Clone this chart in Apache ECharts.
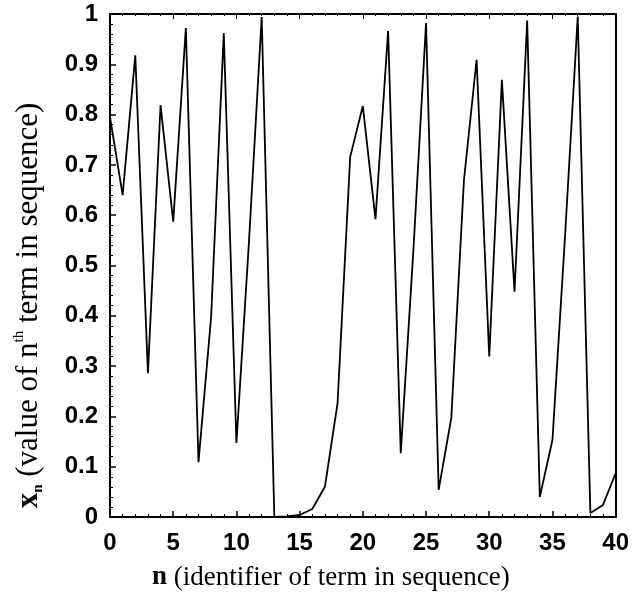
<!DOCTYPE html>
<html>
<head>
<meta charset="utf-8">
<script src="https://cdn.jsdelivr.net/npm/echarts@6/dist/echarts.min.js"></script>
<style>
  html, body { margin: 0; padding: 0; background: #fff; }
  #chart { width: 632px; height: 601px; }
</style>
</head>
<body>
<div id="chart"></div>
<script>
// n (term index)
var nValues = [0, 1, 2, 3, 4, 5, 6, 7, 8, 9, 10,
  11, 12, 13, 14, 15, 16, 17, 18, 19, 20,
  21, 22, 23, 24, 25, 26, 27, 28, 29, 30,
  31, 32, 33, 34, 35, 36, 37, 38, 39, 40];

// x_n
var xValues = [0.795, 0.64, 0.918, 0.286, 0.819, 0.587, 0.972, 0.109, 0.398, 0.962, 0.147,
  0.55, 0.994, 0.0003, 0.001, 0.004, 0.016, 0.06, 0.226, 0.716, 0.817,
  0.592, 0.966, 0.127, 0.53, 0.982, 0.054, 0.197, 0.67, 0.909, 0.319,
  0.869, 0.448, 0.987, 0.040, 0.153, 0.56, 0.995, 0.008, 0.024, 0.087];

var xTicks = [0, 5, 10, 15, 20, 25, 30, 35, 40];

var seriesData = nValues.map(function (n, i) {
  return [n, xValues[i]];
});

var tickFont = {
  color: '#000',
  fontFamily: 'Liberation Sans, Arial, sans-serif',
  fontWeight: 'bold',
  fontSize: 24
};

var titleFont = 'Liberation Serif, Times New Roman, serif';

var myChart = echarts.init(document.getElementById('chart'));

var option = {
  backgroundColor: '#fff',
  animation: false,
  grid: {
    left: 110,
    right: 12,
    top: 14,
    bottom: 84
  },
  xAxis: [{
    type: 'value',
    min: xTicks[0],
    max: xTicks[xTicks.length - 1],
    interval: 5,
    axisLine: { onZero: false, lineStyle: { color: '#000', width: 2 } },
    axisTick: { inside: true, length: 6, lineStyle: { color: '#000', width: 1.5 } },
    minorTick: { show: true, splitNumber: 5, length: 3, lineStyle: { color: '#000', width: 1 } },
    splitLine: { show: false },
    axisLabel: Object.assign({ margin: 14 }, tickFont),
    name: '{b|n} (identifier of term in sequence)',
    nameLocation: 'middle',
    nameGap: 47,
    nameTextStyle: {
      color: '#000',
      fontFamily: titleFont,
      fontSize: 27,
      padding: [0, 64, 0, 0],
      rich: {
        b: { fontFamily: titleFont, fontSize: 27, fontWeight: 'bold', color: '#000' }
      }
    }
  }, {
    // top frame
    type: 'value',
    position: 'top',
    min: xTicks[0],
    max: xTicks[xTicks.length - 1],
    interval: 5,
    axisLine: { show: true, onZero: false, lineStyle: { color: '#000', width: 2 } },
    axisTick: { inside: true, length: 5, lineStyle: { color: '#000', width: 1 } },
    minorTick: { show: true, splitNumber: 5, length: 2, lineStyle: { color: '#000', width: 1 } },
    axisLabel: { show: false },
    splitLine: { show: false }
  }],
  yAxis: [{
    type: 'value',
    min: 0,
    max: 1,
    interval: 0.1,
    axisLine: { show: true, onZero: false, lineStyle: { color: '#000', width: 2 } },
    axisTick: { inside: true, length: 6, lineStyle: { color: '#000', width: 1.5 } },
    minorTick: { show: true, splitNumber: 5, length: 3, lineStyle: { color: '#000', width: 1 } },
    splitLine: { show: false },
    axisLabel: Object.assign({ margin: 12 }, tickFont),
    name: '{b|x}{sub|n} (value of n{sup|th} term in sequence)',
    nameLocation: 'middle',
    nameRotate: 90,
    nameGap: 64,
    nameTextStyle: {
      color: '#000',
      fontFamily: titleFont,
      fontSize: 31,
      lineHeight: 34,
      padding: [0, 80, 0, 0],
      rich: {
        b: { fontFamily: titleFont, fontSize: 31, fontWeight: 'bold', color: '#000', lineHeight: 34 },
        sub: { fontFamily: titleFont, fontSize: 15, fontWeight: 'bold', color: '#000', verticalAlign: 'bottom', lineHeight: 34 },
        sup: { fontFamily: titleFont, fontSize: 15, color: '#000', verticalAlign: 'top', lineHeight: 34 }
      }
    }
  }, {
    // right frame
    type: 'value',
    position: 'right',
    min: 0,
    max: 1,
    interval: 0.1,
    axisLine: { show: true, onZero: false, lineStyle: { color: '#000', width: 2 } },
    axisTick: { show: false },
    axisLabel: { show: false },
    splitLine: { show: false }
  }],
  series: [{
    type: 'line',
    xAxisIndex: 0,
    yAxisIndex: 0,
    data: seriesData,
    showSymbol: false,
    symbol: 'none',
    lineStyle: { color: '#000', width: 1.8 }
  }]
};

myChart.setOption(option);
</script>
</body>
</html>
